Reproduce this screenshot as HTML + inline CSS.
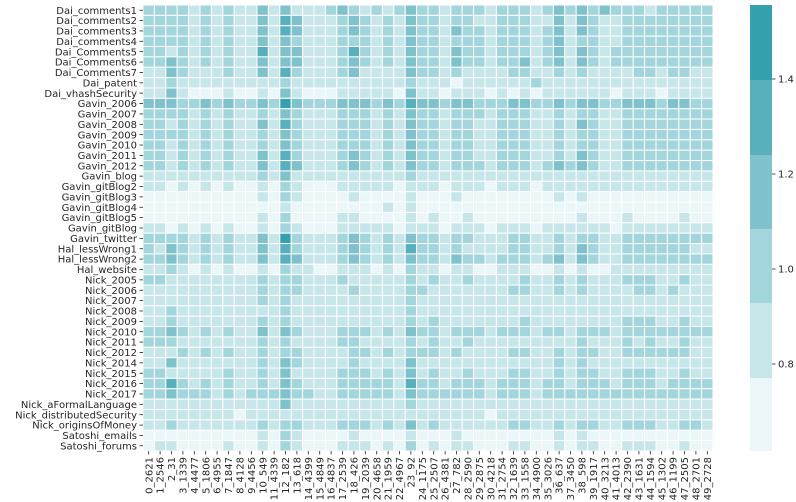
<!DOCTYPE html>
<html><head><meta charset="utf-8"><style>
html,body{margin:0;padding:0;background:#fff;width:796px;height:502px;overflow:hidden}
svg text{font-family:"DejaVu Sans","Liberation Sans",sans-serif;font-size:10px;fill:#262626}
</style></head><body>
<svg id="s" width="796" height="502" xmlns="http://www.w3.org/2000/svg"></svg>
<script>
(function(){
var labs=["Dai_comments1","Dai_comments2","Dai_comments3","Dai_comments4","Dai_Comments5","Dai_Comments6","Dai_Comments7","Dai_patent","Dai_vhashSecurity","Gavin_2006","Gavin_2007","Gavin_2008","Gavin_2009","Gavin_2010","Gavin_2011","Gavin_2012","Gavin_blog","Gavin_gitBlog2","Gavin_gitBlog3","Gavin_gitBlog4","Gavin_gitBlog5","Gavin_gitBlog","Gavin_twitter","Hal_lessWrong1","Hal_lessWrong2","Hal_website","Nick_2005","Nick_2006","Nick_2007","Nick_2008","Nick_2009","Nick_2010","Nick_2011","Nick_2012","Nick_2014","Nick_2015","Nick_2016","Nick_2017","Nick_aFormalLanguage","Nick_distributedSecurity","Nick_originsOfMoney","Satoshi_emails","Satoshi_forums"];
var cols="0_2621 1_2546 2_31 3_1339 4_4477 5_1806 6_4955 7_1847 8_4128 9_4456 10_549 11_4339 12_182 13_618 14_4399 15_4849 16_4837 17_2539 18_426 19_2039 20_4658 21_1959 22_4967 23_92 24_1175 25_2507 26_4381 27_782 28_2590 29_2875 30_4218 31_2754 32_1639 33_1558 34_4900 35_3026 36_637 37_3450 38_598 39_1917 40_3213 41_4013 42_2390 43_1631 44_1594 45_1302 46_1199 47_2505 48_2701 49_2728".split(" ");
var L=[
"2222121211313111232121232","2122212221232323222122222",
"2222121211314311123212132","2122112221131321122222222",
"2222121211314311123212132","2132212221231321122222222",
"2222121211313211122212132","2122212221231221122222222",
"2212121211413311124212132","2132212221231321222222222",
"2232121211313311123212132","2132212231231321222222222",
"1132111211314211123111132","2121111221121211112212211",
"1121111111112111111111121","1101111112111111111111111",
"1131000100103100011111031","1011101010111111011101111",
"3332232322325322233323243","3233222332232332233323322",
"2222121211213211122212132","2122212221121221122222222",
"2212121211314211122212132","2122112221121321122222222",
"2222121211213211122212132","2122112221121221122222222",
"2212121211213211122212132","2122112221121221122222222",
"2212121211314211123212132","2122112221121321122222222",
"2212121211314311123212132","2122212221232321122222222",
"1111111111213111111111121","1111111111111111111111111",
"1101010100102100011111011","1011101110111111111111111",
"0000000000102100001000010","0010000000010100000000000",
"0000000000001000000001010","0000000000000000000000000",
"0000000000102000011000010","1001000000000100010000100",
"1101010100102100011111011","1011101110111111011111111",
"2222121211315211123212132","2122111221121221122222222",
"2132121211314211123212142","2121111221121321122222211",
"2232121211314311123212132","2132212221231321122222222",
"1121010100102110011101021","1011001110010100111111111",
"2211111111212211121111121","2112111121121211122211211",
"1111111111212211112111122","1111111221121211112212111",
"1111111111212111111111121","1111111111111111111111111",
"1121111111112111111111121","1111111111111111111111111",
"1121111111212111111111121","2111111121111111122211211",
"2232121211313211122212132","2122212221221222122222222",
"2221111111212111122111121","2112111111111211121211211",
"1112121211212211112212122","2121111221121221122222211",
"1131111111213211112111131","1111111111121211111111111",
"2211111211213111122212131","2112111221121221122211211",
"2242121211213211122222142","2122212221221222122212222",
"2232221212223221122222132","2222212221222222222222222",
"1111111111113111111111121","1111111111111111111111111",
"1111111101111111111111111","1111101111111111111111111",
"1121111111212211122212131","2111111221121221122211221",
"0000000000102100001000010","0010000000010100000000000",
"0110000100102100011101020","1011000110010110011100100"
];
var C=["#eaf6f8","#c6e6ea","#a3d5dc","#7fc2cb","#58b0bc","#35a0ae"];
var x0=143,x1=713,y0=5,y1=451,nr=43,nc=50;
var cw=(x1-x0)/nc,ch=(y1-y0)/nr,h="";
for(var r=0;r<nr;r++){var s=L[2*r]+L[2*r+1];for(var c=0;c<nc;c++){
h+='<rect x="'+(x0+c*cw).toFixed(2)+'" y="'+(y0+r*ch).toFixed(2)+'" width="'+cw.toFixed(2)+'" height="'+ch.toFixed(2)+'" fill="'+C[+s[c]]+'" stroke="#fff" stroke-width="1"/>';}}
for(var r=0;r<nr;r++){var y=y0+(r+0.5)*ch;
h+='<line x1="'+(x0-3.5)+'" y1="'+y+'" x2="'+x0+'" y2="'+y+'" stroke="#262626" stroke-width="0.8"/>';
h+='<text x="'+(x0-6)+'" y="'+(y+3.6)+'" text-anchor="end">'+labs[r]+'</text>';}
for(var c=0;c<nc;c++){var x=x0+(c+0.5)*cw;
h+='<line x1="'+x+'" y1="'+y1+'" x2="'+x+'" y2="'+(y1+3.5)+'" stroke="#262626" stroke-width="0.8"/>';
h+='<text transform="translate('+(x+3.6)+','+(y1+6)+') rotate(-90)" text-anchor="end">'+cols[c]+'</text>';}
var bc=["#35a0ae","#58b0bc","#7fc2cb","#a3d5dc","#c6e6ea","#eaf6f8"],bb=[5,80,155,229,303,378,451];
for(var i=0;i<6;i++)h+='<rect x="750" y="'+bb[i]+'" width="22" height="'+(bb[i+1]-bb[i])+'" fill="'+bc[i]+'"/>';
var tk=[["1.4",79],["1.2",174],["1.0",269],["0.8",364]];
for(var i=0;i<4;i++){h+='<line x1="772" y1="'+tk[i][1]+'" x2="775.5" y2="'+tk[i][1]+'" stroke="#262626" stroke-width="0.8"/><text x="778" y="'+(tk[i][1]+3.6)+'">'+tk[i][0]+'</text>';}
document.getElementById("s").innerHTML=h;
})();
</script>
</body></html>
